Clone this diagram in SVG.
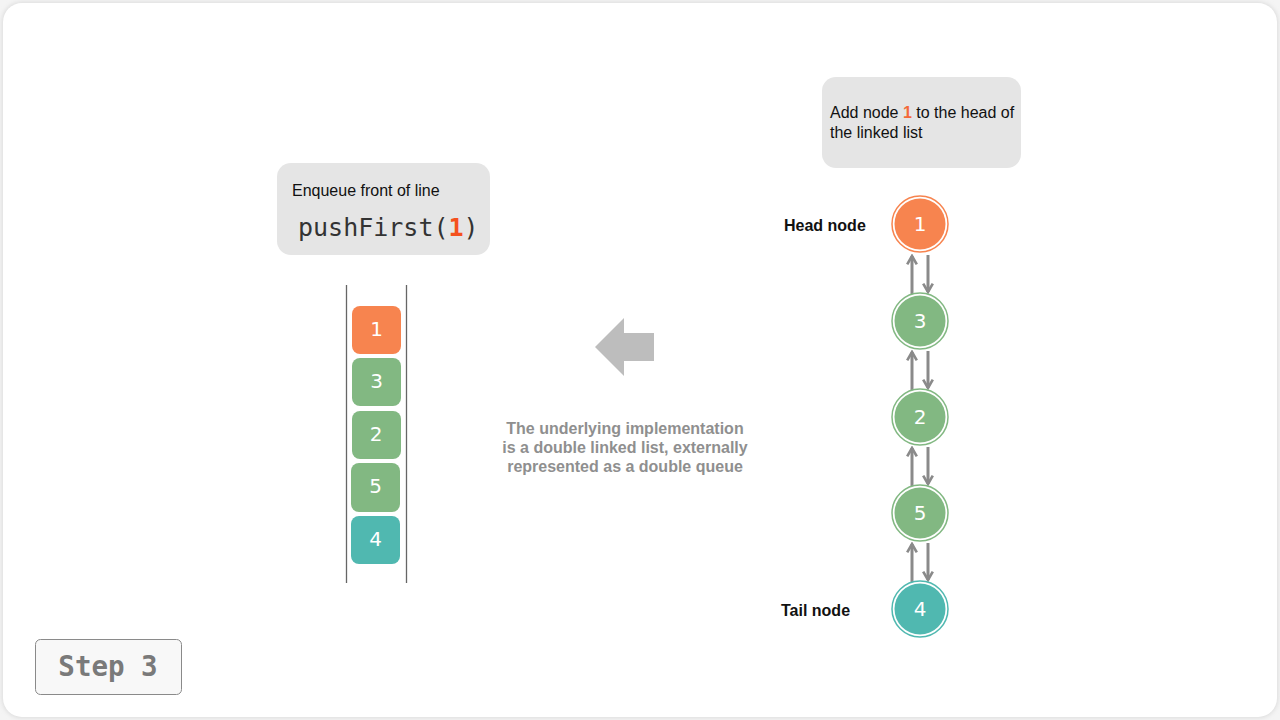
<svg xmlns="http://www.w3.org/2000/svg" width="1280" height="720" viewBox="0 0 1280 720">
<style>
.lbl{font-family:"Liberation Sans",Arial,sans-serif;font-size:16px;fill:#111}
.num{font-family:"DejaVu Sans","Noto Sans",sans-serif;font-size:20px;fill:#fff;text-anchor:middle;dominant-baseline:central}
.bold{font-weight:bold}
.note{font-family:"Liberation Sans",Arial,sans-serif;font-size:16px;font-weight:bold;fill:#8f8f8f;text-anchor:middle}
.link{stroke:#8a8a8a;stroke-width:3;fill:none;marker-end:url(#ah)}
</style>
<defs>
<filter id="sh" x="-5%" y="-5%" width="110%" height="110%">
<feGaussianBlur stdDeviation="2"/>
</filter>
<marker id="ah" viewBox="0 0 10 10" refX="8" refY="5" markerWidth="4" markerHeight="4" orient="auto" markerUnits="strokeWidth">
<path d="M1,1 L8,5 L1,9" fill="none" stroke="#8a8a8a" stroke-width="2.2"/>
</marker>
</defs>
<rect width="1280" height="720" fill="#f4f4f4"/>
<rect x="2" y="2" width="1276" height="716" rx="20" fill="#dcdcdc" filter="url(#sh)"/>
<rect x="3" y="3" width="1274" height="714" rx="19" fill="#ffffff"/>

<g id="enqueue-box">
<rect x="277" y="163" width="213" height="92" rx="14" fill="#e5e5e5"/>
<text class="lbl" x="292" y="196">Enqueue front of line</text>
<text x="298" y="236" font-family="'DejaVu Sans Mono','Liberation Mono',monospace" font-size="25" fill="#333">pushFirst(<tspan font-weight="bold" fill="#f4511e">1</tspan>)</text>
</g>

<g id="queue">
<line x1="346.5" y1="285" x2="346.5" y2="583" stroke="#666" stroke-width="1.3"/>
<line x1="406.5" y1="285" x2="406.5" y2="583" stroke="#666" stroke-width="1.3"/>
<g id="q1"><rect x="352" y="306" width="49" height="48" rx="8" fill="#f7844f"/><text class="num" x="376.5" y="329">1</text></g>
<g id="q3"><rect x="352" y="358" width="49" height="48" rx="8" fill="#82b882"/><text class="num" x="376.5" y="381">3</text></g>
<g id="q2"><rect x="352" y="411" width="49" height="48" rx="8" fill="#82b882"/><text class="num" x="376" y="434">2</text></g>
<g id="q5"><rect x="351" y="463" width="49" height="49" rx="8" fill="#82b882"/><text class="num" x="375.5" y="486">5</text></g>
<g id="q4"><rect x="351" y="516" width="49" height="48" rx="8" fill="#50b8b0"/><text class="num" x="375.5" y="539">4</text></g>
</g>

<g id="big-arrow">
<polygon points="595,347 624,318 624,333 654,333 654,361 624,361 624,376" fill="#bdbdbd"/>
</g>

<g id="note">
<text class="note" x="625" y="434">The underlying implementation</text>
<text class="note" x="625" y="453">is a double linked list, externally</text>
<text class="note" x="625" y="472">represented as a double queue</text>
</g>

<g id="add-box">
<rect x="822" y="77" width="199" height="91" rx="14" fill="#e5e5e5"/>
<text class="lbl" x="830" y="118">Add node <tspan font-weight="bold" fill="#f4693a">1</tspan> to the head of</text>
<text class="lbl" x="830" y="138">the linked list</text>
</g>

<g id="head-label"><text class="lbl bold" x="784" y="231">Head node</text></g>
<g id="tail-label"><text class="lbl bold" x="781" y="616">Tail node</text></g>

<g id="connectors">
<line class="link" x1="912" y1="294" x2="912" y2="256"/>
<line class="link" x1="928" y1="255" x2="928" y2="292"/>
<line class="link" x1="912" y1="390" x2="912" y2="352"/>
<line class="link" x1="928" y1="351" x2="928" y2="388"/>
<line class="link" x1="912" y1="486" x2="912" y2="448"/>
<line class="link" x1="928" y1="447" x2="928" y2="484"/>
<line class="link" x1="912" y1="582" x2="912" y2="544"/>
<line class="link" x1="928" y1="543" x2="928" y2="580"/>
</g>

<g id="n1"><circle cx="920" cy="224" r="28" fill="none" stroke="#f7844f" stroke-width="1.5"/><circle cx="920" cy="224" r="25.5" fill="#f7844f"/><text class="num" x="920" y="224">1</text></g>
<g id="n3"><circle cx="920" cy="321" r="28" fill="none" stroke="#82b882" stroke-width="1.5"/><circle cx="920" cy="321" r="25.5" fill="#82b882"/><text class="num" x="920" y="321">3</text></g>
<g id="n2"><circle cx="920" cy="417" r="28" fill="none" stroke="#82b882" stroke-width="1.5"/><circle cx="920" cy="417" r="25.5" fill="#82b882"/><text class="num" x="920" y="417">2</text></g>
<g id="n5"><circle cx="920" cy="513" r="28" fill="none" stroke="#82b882" stroke-width="1.5"/><circle cx="920" cy="513" r="25.5" fill="#82b882"/><text class="num" x="920" y="513">5</text></g>
<g id="n4"><circle cx="920" cy="609" r="28" fill="none" stroke="#50b8b0" stroke-width="1.5"/><circle cx="920" cy="609" r="25.5" fill="#50b8b0"/><text class="num" x="920" y="609">4</text></g>

<g id="step">
<rect x="35.5" y="639.5" width="146" height="55" rx="5" fill="#f8f8f8" stroke="#8a8a8a" stroke-width="1"/>
<text x="108" y="676" text-anchor="middle" font-family="'DejaVu Sans Mono','Liberation Mono',monospace" font-weight="bold" font-size="27.5" fill="#7a7a7a">Step 3</text>
</g>
</svg>
